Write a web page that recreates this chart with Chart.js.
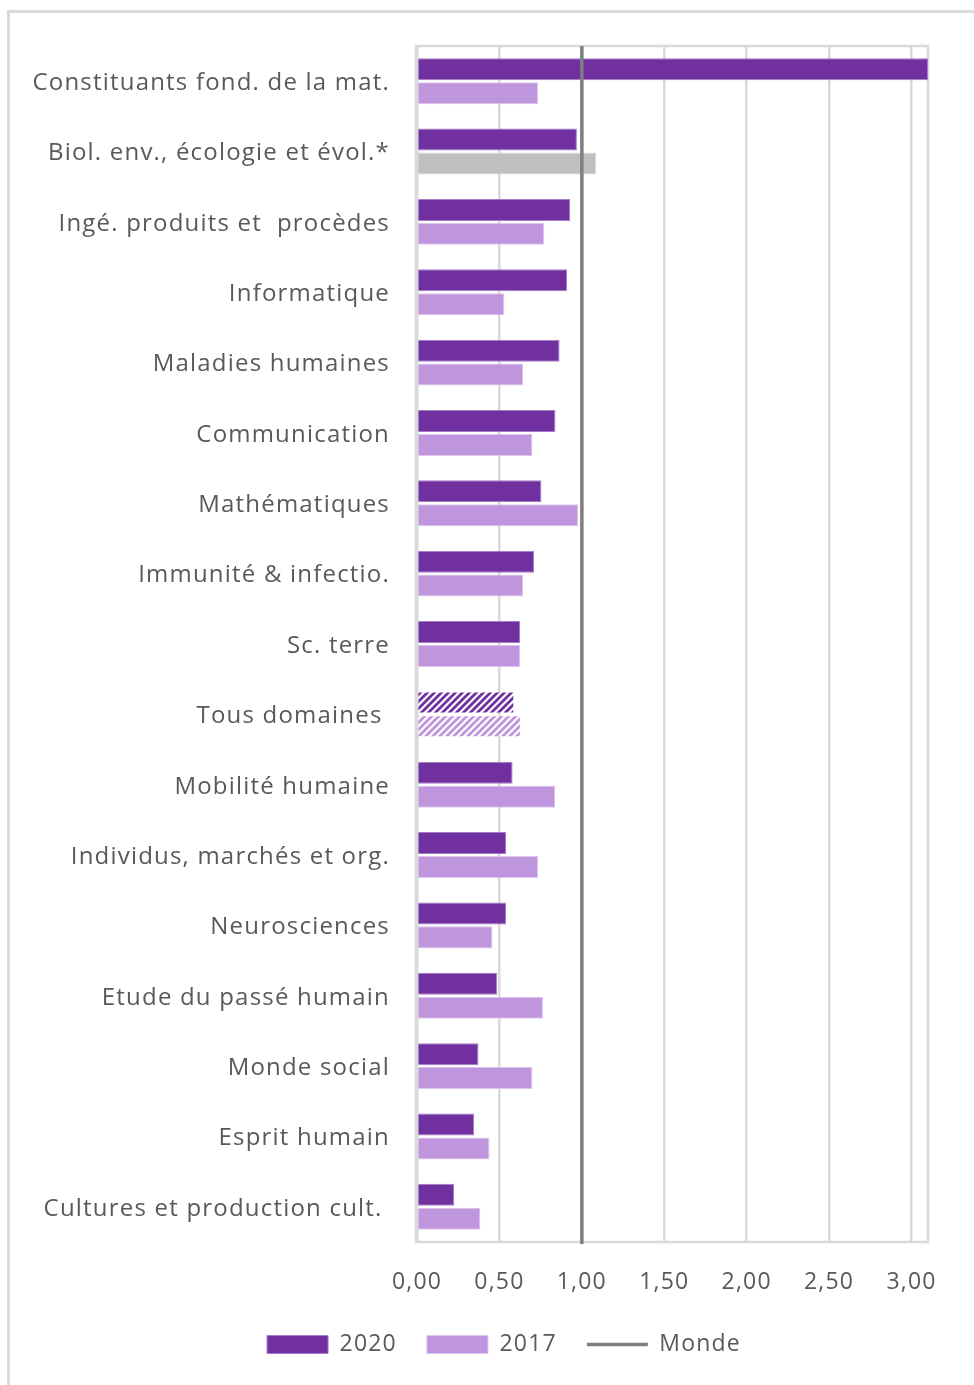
<!DOCTYPE html>
<html>
<head>
<meta charset="utf-8">
<script src="https://cdn.jsdelivr.net/npm/chart.js@4.4.1/dist/chart.umd.min.js"></script>
<style>
  html, body { margin: 0; padding: 0; background: #ffffff; }
  body { width: 974px; height: 1385px; position: relative; overflow: hidden; }
  #frame { position: absolute; left: 7px; top: 10px; width: 980px; height: 1400px;
           border-left: 3px solid #dadada; border-top: 3px solid #dadada; box-sizing: border-box; }
  #c { position: absolute; left: 0; top: 0; }
</style>
</head>
<body>
<div id="frame"></div>
<canvas id="c" width="974" height="1385"></canvas>
<script>
const categories = [
  "Constituants fond. de la mat.",
  "Biol. env., écologie et évol.*",
  "Ingé. produits et  procèdes",
  "Informatique",
  "Maladies humaines",
  "Communication",
  "Mathématiques",
  "Immunité & infectio.",
  "Sc. terre",
  "Tous domaines ",
  "Mobilité humaine",
  "Individus, marchés et org.",
  "Neurosciences",
  "Etude du passé humain",
  "Monde social",
  "Esprit humain",
  "Cultures et production cult. "
];
const values2020 = [3.10, 0.97, 0.93, 0.91, 0.865, 0.84, 0.755, 0.71, 0.625, 0.59, 0.58, 0.54, 0.54, 0.487, 0.373, 0.347, 0.226];
const values2017 = [0.735, 1.087, 0.772, 0.53, 0.644, 0.70, 0.977, 0.644, 0.625, 0.63, 0.838, 0.735, 0.458, 0.764, 0.70, 0.44, 0.384];
const mondeValue = [1.00];
const seriesNames = ["2020", "2017", "Monde"];
const xTicks = [0, 0.5, 1, 1.5, 2, 2.5, 3];

const DARK = '#7030A0';
const LIGHT = '#BF95DD';
const GRAY = '#BFBFBF';
const LINE = '#7F7F7F';
const TEXT = '#595959';
const GRID = '#D9D9D9';

function hatch(color) {
  const s = 7;
  const cv = document.createElement('canvas');
  cv.width = s; cv.height = s;
  const g = cv.getContext('2d');
  g.fillStyle = '#ffffff';
  g.fillRect(0, 0, s, s);
  g.strokeStyle = color;
  g.lineWidth = 2.8;
  g.beginPath();
  for (let k = -1; k <= 1; k++) {
    g.moveTo(k * s - 1, s + 1);
    g.lineTo(k * s + s + 1, -1);
  }
  g.stroke();
  return g.createPattern(cv, 'repeat');
}
const hatchDark = hatch(DARK);
const hatchLight = hatch(LIGHT);

const idxAll = categories.findIndex(c => c.trim() === "Tous domaines");
const idxBiol = 1;

const bg2020 = categories.map((c, i) => i === idxAll ? hatchDark : DARK);
const bg2017 = categories.map((c, i) => i === idxAll ? hatchLight : (i === idxBiol ? GRAY : LIGHT));
const bd2020 = categories.map((c, i) => i === idxAll ? 'rgba(0,0,0,0)' : '#A77BCB');
const bd2017 = categories.map((c, i) => i === idxAll ? 'rgba(0,0,0,0)' : (i === idxBiol ? '#D6D6D6' : '#DCC4EE'));

const FONT = "'Open Sans', 'DejaVu Sans', sans-serif";

const LS = '1.2px';
const spacing = {
  id: 'spacing',
  beforeInit(chart) { chart.ctx.letterSpacing = LS; },
  beforeUpdate(chart) { chart.ctx.letterSpacing = LS; },
  beforeLayout(chart) { chart.ctx.letterSpacing = LS; },
  beforeDraw(chart) { chart.ctx.letterSpacing = LS; }
};
const legendCenter = {
  id: 'legendCenter',
  beforeDraw(chart) {
    const l = chart.legend;
    if (l) { l.left = 80; l.right = chart.chartArea.right; }
  }
};
const plotFrame = {
  id: 'plotFrame',
  beforeDatasetsDraw(chart) {
    const {ctx, chartArea: a} = chart;
    ctx.save();
    ctx.strokeStyle = GRID;
    ctx.lineWidth = 2.5;
    ctx.strokeRect(a.left - 1, a.top, a.right - a.left + 1, a.bottom - a.top);
    ctx.restore();
  }
};
const mondeLine = {
  id: 'mondeLine',
  afterDatasetsDraw(chart) {
    const {ctx, chartArea: a} = chart;
    const x = chart.scales.x.getPixelForValue(mondeValue[0]);
    ctx.save();
    ctx.strokeStyle = LINE;
    ctx.lineWidth = 3.5;
    ctx.beginPath();
    ctx.moveTo(x, a.top);
    ctx.lineTo(x, a.bottom + 2);
    ctx.stroke();
    ctx.restore();
  }
};

new Chart(document.getElementById('c'), {
  type: 'bar',
  data: {
    labels: categories,
    datasets: [
      { label: seriesNames[0], data: values2020, backgroundColor: bg2020, borderColor: bd2020, borderWidth: 1,
        categoryPercentage: 0.68, barPercentage: 0.92 },
      { label: seriesNames[1], data: values2017, backgroundColor: bg2017, borderColor: bd2017, borderWidth: 1,
        categoryPercentage: 0.68, barPercentage: 0.92 }
    ]
  },
  options: {
    indexAxis: 'y',
    responsive: false,
    animation: false,
    layout: { padding: { left: 16, right: 46, top: 46, bottom: 19 } },
    scales: {
      x: {
        type: 'linear',
        min: 0,
        max: 3.1,
        afterBuildTicks(scale) { scale.ticks = xTicks.map(v => ({ value: v })); },
        afterFit(scale) { scale.height = 61; },
        grid: { color: GRID, lineWidth: 2.5, drawTicks: false },
        border: { display: false },
        ticks: {
          color: TEXT,
          padding: 27,
          maxRotation: 0,
          font: { family: FONT, size: 23 },
          callback: v => Number(v).toFixed(2).replace('.', ',')
        }
      },
      y: {
        afterFit(scale) { scale.width = 417 - 16; },
        grid: { display: false },
        border: { display: false },
        ticks: {
          color: TEXT,
          padding: 19,
          labelOffset: 2,
          autoSkip: false,
          font: { family: FONT, size: 24 }
        }
      }
    },
    plugins: {
      tooltip: { enabled: false },
      legend: {
        position: 'bottom',
        labels: {
          color: TEXT,
          font: { family: FONT, size: 23 },
          usePointStyle: true,
          pointStyleWidth: 61,
          boxHeight: 18,
          padding: 30,
          generateLabels() {
            return [
              { text: seriesNames[0], fillStyle: DARK, strokeStyle: '#A77BCB', lineWidth: 1, pointStyle: 'rect', fontColor: TEXT, datasetIndex: 0 },
              { text: seriesNames[1], fillStyle: LIGHT, strokeStyle: '#DCC4EE', lineWidth: 1, pointStyle: 'rect', fontColor: TEXT, datasetIndex: 1 },
              { text: seriesNames[2], fillStyle: 'rgba(0,0,0,0)', strokeStyle: LINE, lineWidth: 3.5, pointStyle: 'line', fontColor: TEXT }
            ];
          }
        }
      }
    }
  },
  plugins: [spacing, legendCenter, plotFrame, mondeLine]
});
</script>
</body>
</html>
